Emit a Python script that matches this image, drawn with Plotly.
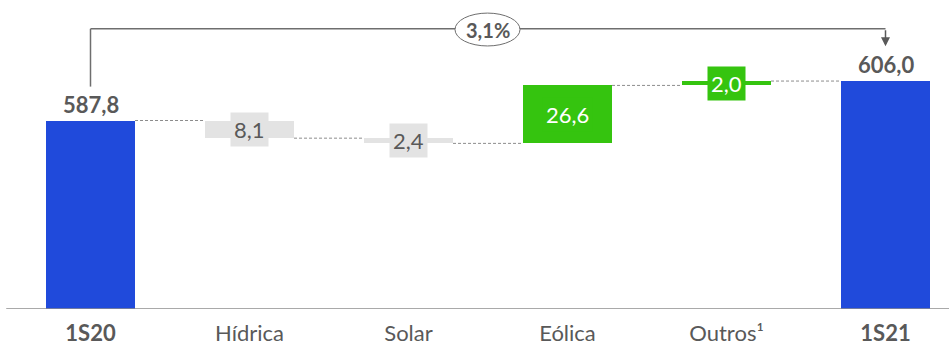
import plotly.graph_objects as go

categories = ["1S20", "Hídrica", "Solar", "Eólica", "Outros¹", "1S21"]
tick_labels = ["<b>1S20</b>", "Hídrica", "Solar", "Eólica", "Outros¹", "<b>1S21</b>"]
start_value = 587.8
deltas = [-8.1, -2.4, 26.6, 2.0]
end_value = 606.0
growth_label = "3,1%"

BLUE = "#204ADB"
GREEN = "#35C40F"
GRAY = "#E3E3E3"
TXT = "#595959"
FONT = "Lato"

def fmt(v):
    return f"{abs(v):.1f}".replace(".", ",")

# compute bases / heights
bases, heights, colors = [], [], []
y_min = 501.3
bases.append(y_min); heights.append(start_value - y_min); colors.append(BLUE)
levels = [start_value]
cur = start_value
for d in deltas:
    nxt = cur + d
    bases.append(min(cur, nxt)); heights.append(abs(d))
    colors.append(GRAY if d < 0 else GREEN)
    cur = nxt
    levels.append(cur)
bases.append(y_min); heights.append(end_value - y_min); colors.append(BLUE)

xs = list(range(len(categories)))
bar_w = 0.56

fig = go.Figure()
fig.add_trace(go.Bar(x=xs, y=heights, base=bases, width=bar_w,
                     marker=dict(color=colors, line=dict(width=0)),
                     hoverinfo="skip"))

y_max = 643.1
px_per_unit = 314 / (y_max - y_min)

shapes = []
annotations = []

# connectors
for i in range(len(xs) - 1):
    lvl = levels[i]
    shapes.append(dict(type="line", xref="x", yref="y",
                       x0=xs[i] + bar_w / 2, x1=xs[i + 1] - bar_w / 2,
                       y0=lvl, y1=lvl,
                       line=dict(color="#8C8C8C", width=1, dash="3px,2px")))

# axis line
shapes.append(dict(type="line", xref="x", yref="y", x0=-0.53, x1=5.5,
                   y0=y_min, y1=y_min, line=dict(color="#8C8C8C", width=1.5)))

# total labels
for i, v in [(0, start_value), (5, end_value)]:
    annotations.append(dict(x=xs[i], y=v, xref="x", yref="y", text=f"<b>{fmt(v)}</b>",
                            showarrow=False, yanchor="bottom", yshift=1,
                            font=dict(family=FONT, size=22, color=TXT)))

# delta labels
for k, d in enumerate(deltas):
    i = k + 1
    mid = bases[i] + heights[i] / 2
    col = colors[i]
    annotations.append(dict(x=xs[i], y=mid, xref="x", yref="y", text=fmt(d),
                            showarrow=False, yanchor="middle", bgcolor=col,
                            borderpad=3,
                            font=dict(family=FONT, size=22,
                                      color=TXT if d < 0 else "white")))

# bracket
top_y = y_max - 29.3 / px_per_unit
left_bottom = y_max - 88 / px_per_unit
arrow_tip = y_max - 47 / px_per_unit
shapes.append(dict(type="line", xref="x", yref="y", x0=xs[0], x1=xs[0],
                   y0=left_bottom, y1=top_y, line=dict(color="#6E6E6E", width=1.5)))
shapes.append(dict(type="line", xref="x", yref="y", x0=xs[0], x1=xs[-1],
                   y0=top_y, y1=top_y, line=dict(color="#6E6E6E", width=1.5)))
annotations.append(dict(x=xs[-1], y=arrow_tip, ax=xs[-1], ay=top_y, xref="x", yref="y",
                        axref="x", ayref="y", text="", showarrow=True,
                        arrowhead=2, arrowsize=1.2, arrowwidth=1.5, arrowcolor="#595959"))
# ellipse
ex = (487.5 - 90.5) / 159
ew = 32.5 / 159
shapes.append(dict(type="circle", xref="x", yref="y",
                   x0=ex - ew, x1=ex + ew,
                   y0=y_max - 46.7 / px_per_unit, y1=y_max - 13.3 / px_per_unit,
                   fillcolor="white", line=dict(color="#6E6E6E", width=1)))
annotations.append(dict(x=ex, y=y_max - 30 / px_per_unit, xref="x", yref="y",
                        text=f"<b>{growth_label}</b>", showarrow=False,
                        font=dict(family=FONT, size=20, color=TXT)))

fig.update_layout(
    width=949, height=346,
    margin=dict(l=0, r=0, t=0, b=32),
    paper_bgcolor="white", plot_bgcolor="white",
    showlegend=False,
    bargap=0,
    xaxis=dict(range=[-90.5 / 159, 5 + 63.5 / 159], tickvals=xs, ticktext=tick_labels,
               showgrid=False, zeroline=False, showline=False, ticks="",
               ticklabelstandoff=9,
               tickfont=dict(family=FONT, size=22, color=TXT), fixedrange=True),
    yaxis=dict(range=[y_min, y_max], visible=False, fixedrange=True),
    shapes=shapes,
    annotations=annotations,
)

fig.write_html("out.html")
